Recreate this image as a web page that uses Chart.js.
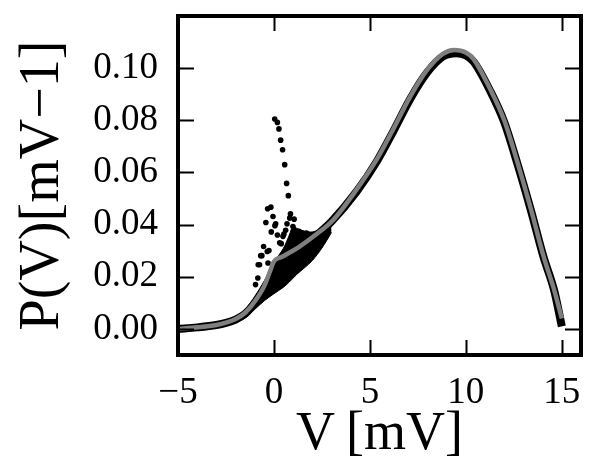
<!DOCTYPE html>
<html lang="en">
<head>
    <meta charset="UTF-8">
    <title>P(V)</title>
    <script src="https://cdn.jsdelivr.net/npm/chart.js"></script>
    <style>
        body { margin: 0; background: #fff; }
        .wrap { width: 600px; height: 470px; }
    </style>
</head>
<body>
    <div class="wrap"><canvas id="chart"></canvas></div>

    <script>
        // axis ranges and ticks
        const xMin = -5, xMax = 16;
        const yMin = -0.01, yMax = 0.12;
        const xTicks = [-5, 0, 5, 10, 15];
        const yTicks = [0.00, 0.02, 0.04, 0.06, 0.08, 0.10];

        // grey fitted curve
        const fitV = [-5, -4, -3, -2.5, -2, -1.5, -1, -0.5, -0.2, 0, 0.4, 1.3, 2.1, 3.1, 4.3, 5.35, 6.2, 7.1, 8.0, 8.8, 9.4, 10.0, 10.4, 11.3, 12.0, 12.7, 13.4, 14.05, 14.6, 15.0];
        const fitP = [0.0000, 0.0006, 0.0015, 0.0024, 0.0038, 0.0062, 0.0105, 0.0165, 0.0222, 0.0259, 0.0276, 0.0314, 0.0357, 0.0419, 0.0534, 0.0649, 0.0764, 0.0891, 0.0995, 0.1055, 0.1070, 0.1060, 0.1035, 0.0915, 0.0800, 0.0636, 0.0457, 0.0278, 0.0150, 0.0040];

        // black simulation points (dense band along the curve)
        const bandV = [-5, -4, -3, -2.5, -2, -1.5, -1, -0.5, 0, 1, 2, 3, 4.3, 5.35, 6.2, 7.1, 8.0, 8.8, 9.5, 10.0, 10.4, 11.3, 12.0, 12.7, 13.4, 14.05, 14.6, 15.0];
        const bandP = [0.0000, 0.0006, 0.0015, 0.0023, 0.0036, 0.0058, 0.0098, 0.0150, 0.0200, 0.0280, 0.0345, 0.0412, 0.0526, 0.0641, 0.0755, 0.0882, 0.0985, 0.1044, 0.1057, 0.1049, 0.1025, 0.0908, 0.0793, 0.0630, 0.0452, 0.0275, 0.0148, 0.0010];

        // spread of the black cloud around V = 0
        const cloudV = [-2.5, -2, -1.5, -1, -0.5, 0, 0.5, 0.8, 1.0, 1.2, 1.6, 2.0, 2.5, 3.0];
        const cloudLow = [0.0018, 0.0025, 0.0042, 0.0075, 0.0108, 0.0135, 0.0160, 0.0180, 0.0195, 0.0210, 0.0235, 0.0262, 0.0310, 0.0370];
        const cloudHigh = [0.0030, 0.0045, 0.0075, 0.0125, 0.0185, 0.0255, 0.0310, 0.0360, 0.0395, 0.0385, 0.0375, 0.0372, 0.0385, 0.0410];

        // scattered outliers
        const outV = [0.04, 0.18, 0.26, 0.35, 0.45, 0.56, 0.66, 0.75, -0.33, -0.16, -0.05, -0.42, 0.09, 0.86, 1.05, -0.14, 0.18, 0.38, -0.54, 0.68, 0.61, -0.63, -0.26, -0.75, -0.31, -0.84, -0.96, 0.30, 0.47, 0.99, 0.82, 0.05, 0.52, -0.69, -0.35, -0.82, 1.3, 1.7];
        const outP = [0.0805, 0.0792, 0.0767, 0.0724, 0.0687, 0.0630, 0.0558, 0.0511, 0.0461, 0.0467, 0.0431, 0.0408, 0.0403, 0.0441, 0.0421, 0.0372, 0.0360, 0.0327, 0.0316, 0.0403, 0.0378, 0.0281, 0.0301, 0.0246, 0.0253, 0.0195, 0.0170, 0.0330, 0.0355, 0.0393, 0.0425, 0.0396, 0.0364, 0.0281, 0.0297, 0.0246, 0.0374, 0.0368];

        const pts = (xs, ys) => xs.map((v, i) => ({ x: v, y: ys[i] }));

        const frame = {
            id: 'frame',
            afterDatasetsDraw(chart) {
                const { ctx, chartArea: a, scales: { x, y } } = chart;
                ctx.save();
                ctx.strokeStyle = '#000';
                ctx.lineWidth = 2;
                ctx.beginPath();
                xTicks.forEach(v => {
                    if (v <= xMin) return;
                    const px = Math.round(x.getPixelForValue(v)) + 0.5;
                    ctx.moveTo(px, a.bottom); ctx.lineTo(px, a.bottom - 15);
                    ctx.moveTo(px, a.top); ctx.lineTo(px, a.top + 15);
                });
                yTicks.forEach(v => {
                    const py = Math.round(y.getPixelForValue(v)) + 0.5;
                    ctx.moveTo(a.left, py); ctx.lineTo(a.left + 16, py);
                    ctx.moveTo(a.right, py); ctx.lineTo(a.right - 16, py);
                });
                ctx.stroke();
                ctx.lineWidth = 4;
                ctx.strokeRect(a.left, a.top, a.right - a.left, a.bottom - a.top);
                ctx.restore();
            }
        };

        const serif = '"Liberation Serif", "DejaVu Serif", serif';

        new Chart(document.getElementById('chart'), {
            type: 'scatter',
            data: {
                datasets: [
                    { data: pts(fitV, fitP), showLine: true, borderColor: '#7f7f7f', borderWidth: 4.5, pointRadius: 0, tension: 0.4, cubicInterpolationMode: 'monotone', order: 0 },
                    { data: pts(outV, outP), pointRadius: 2.8, backgroundColor: '#000', borderWidth: 0, order: 1 },
                    { data: pts(cloudV, cloudLow), showLine: true, borderColor: '#000', borderWidth: 1, pointRadius: 0, tension: 0.3, order: 2 },
                    { data: pts(cloudV, cloudHigh), showLine: true, borderColor: '#000', borderWidth: 1, pointRadius: 0, tension: 0.3, fill: '-1', backgroundColor: '#000', order: 2 },
                    { data: pts(bandV, bandP), showLine: true, borderColor: '#000', borderWidth: 8, pointRadius: 0, tension: 0.4, cubicInterpolationMode: 'monotone', order: 3 }
                ]
            },
            options: {
                responsive: true,
                maintainAspectRatio: false,
                animation: false,
                layout: { padding: { top: 16, right: 19, left: 0, bottom: 0 } },
                plugins: { legend: { display: false }, tooltip: { enabled: false }, filler: { propagate: false } },
                scales: {
                    x: {
                        type: 'linear', min: xMin, max: xMax,
                        grid: { display: false },
                        border: { display: false },
                        afterBuildTicks: s => { s.ticks = xTicks.map(v => ({ value: v })); },
                        afterFit: s => { s.height = 115; s.paddingLeft = 0; s.paddingRight = 0; },
                        ticks: {
                            color: '#000', padding: 12, maxRotation: 0,
                            font: { family: serif, size: 37, lineHeight: 1 },
                            callback: v => v < 0 ? '\u2212' + Math.abs(v) : String(v)
                        },
                        title: { display: true, text: 'V\u2009[mV]', color: '#000', font: { family: serif, size: 54 }, padding: { top: 0, bottom: 3 } }
                    },
                    y: {
                        type: 'linear', min: yMin, max: yMax,
                        grid: { display: false },
                        border: { display: false },
                        afterBuildTicks: s => { s.ticks = yTicks.map(v => ({ value: v })); },
                        afterFit: s => { s.width = 178; s.paddingTop = 0; s.paddingBottom = 0; },
                        ticks: {
                            color: '#000', padding: 12,
                            font: { family: serif, size: 37 },
                            callback: v => v.toFixed(2)
                        },
                        title: { display: true, text: 'P(V)[mV\u22121]', color: '#000', font: { family: serif, size: 56 }, padding: { top: 10, bottom: 0 } }
                    }
                }
            },
            plugins: [frame]
        });
    </script>
</body>
</html>
